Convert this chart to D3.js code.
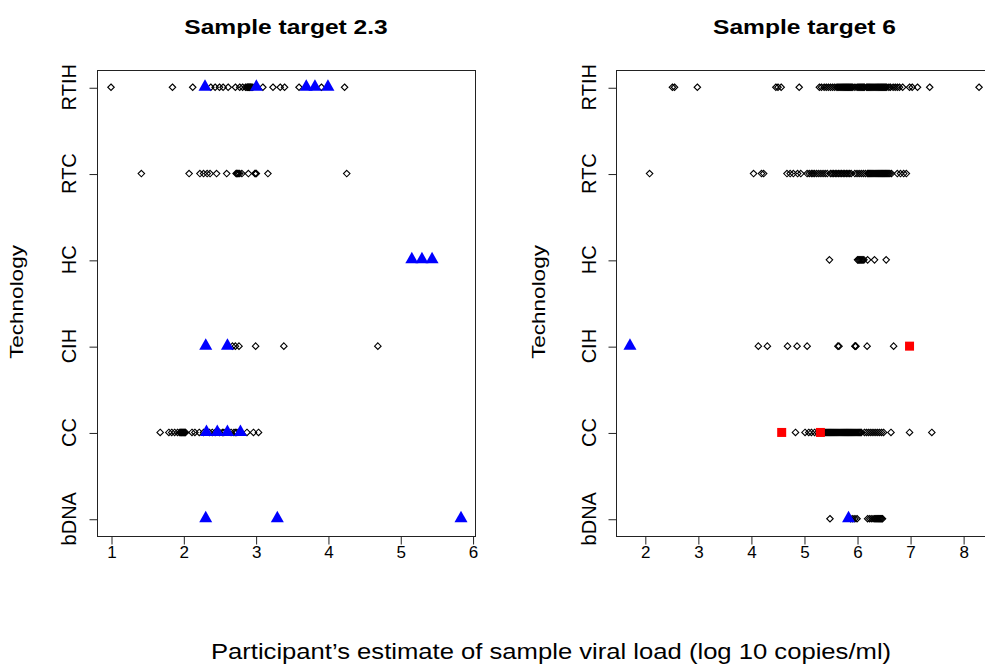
<!DOCTYPE html>
<html>
<head>
<meta charset="utf-8">
<script src="https://cdn.jsdelivr.net/npm/d3@7"></script>
<style>
  html, body { margin: 0; padding: 0; background: #fff; overflow: hidden; }
  svg { display: block; font-family: "Liberation Sans", Arial, Helvetica, sans-serif; }
</style>
</head>
<body>
<svg id="chart" width="985" height="664"></svg>
<script>
// Technologies, bottom to top on the y axis
const technologies = ["bDNA", "CC", "CIH", "HC", "RTC", "RTIH"];

// Panel 1: sample target 2.3 (log10 copies/ml)
const t23Ticks = [1, 2, 3, 4, 5, 6];
const t23Diamonds = {
  RTIH: [1.00, 1.85, 2.13, 2.38, 2.44, 2.50, 2.55, 2.62, 2.72, 2.78, 2.82, 2.86, 2.88, 2.89, 2.90, 2.91, 2.92, 2.93, 2.94, 2.96, 3.10, 3.24, 3.34, 3.40, 3.60, 3.91, 4.23],
  RTC: [1.42, 2.08, 2.23, 2.28, 2.33, 2.37, 2.46, 2.60, 2.73, 2.74, 2.75, 2.76, 2.78, 2.81, 2.90, 2.99, 3.00, 3.01, 3.17, 4.26],
  HC: [],
  CIH: [2.68, 2.72, 2.77, 3.00, 3.39, 4.69],
  CC: [1.68, 1.80, 1.84, 1.88, 1.92, 1.95, 1.96, 1.97, 1.98, 1.99, 2.00, 2.01, 2.02, 2.03, 2.12, 2.16, 2.22, 2.28, 2.36, 2.40, 2.44, 2.50, 2.54, 2.56, 2.66, 2.70, 2.72, 2.74, 2.88, 2.97, 3.04],
  bDNA: []
};
const t23Triangles = {
  RTIH: [2.30, 3.01, 3.70, 3.82, 4.00],
  RTC: [],
  HC: [5.16, 5.30, 5.44],
  CIH: [2.31, 2.61],
  CC: [2.32, 2.47, 2.61, 2.79],
  bDNA: [2.31, 3.30, 5.84]
};
const t23Squares = { RTIH: [], RTC: [], HC: [], CIH: [], CC: [], bDNA: [] };

// Panel 2: sample target 6 (log10 copies/ml)
const t6Ticks = [2, 3, 4, 5, 6, 7, 8];
const t6Diamonds = {
  RTIH: [2.52, 2.56, 2.99, 4.47, 4.51, 4.57, 4.91, 5.29, 5.33, 5.38, 5.42, 5.46, 5.50, 5.54, 5.58,
         5.62, 5.64, 5.66, 5.68, 5.70, 5.72, 5.74, 5.76, 5.78, 5.80, 5.82, 5.84, 5.86, 5.88, 5.90, 5.92,
         5.96, 6.00, 6.02, 6.04, 6.06, 6.08, 6.10, 6.12, 6.14,
         6.18, 6.20, 6.22, 6.24, 6.26, 6.28, 6.30, 6.32, 6.34, 6.36, 6.38, 6.40, 6.42, 6.44, 6.46, 6.48, 6.50, 6.52, 6.54, 6.56,
         6.60, 6.63, 6.68, 6.72, 6.76, 6.80, 6.86, 6.99, 7.04, 7.14, 7.37, 8.30],
  RTC: [2.09, 4.05, 4.20, 4.24, 4.68, 4.74, 4.80, 4.88, 4.94, 5.06, 5.10, 5.14, 5.17, 5.20, 5.24, 5.28, 5.32, 5.36, 5.40, 5.44,
        5.50, 5.53, 5.56, 5.59, 5.62, 5.65, 5.68, 5.71, 5.74, 5.77, 5.80, 5.83, 5.86, 5.89, 5.96, 6.00, 6.04, 6.08, 6.12, 6.16,
        6.20, 6.22, 6.24, 6.26, 6.28, 6.30, 6.32, 6.34, 6.36, 6.38, 6.40, 6.42, 6.44, 6.46, 6.48, 6.50, 6.52, 6.54, 6.56, 6.58,
        6.60, 6.62, 6.65, 6.76, 6.82, 6.88, 6.93],
  HC: [5.48, 6.01, 6.03, 6.05, 6.07, 6.09, 6.11, 6.13, 6.20, 6.33, 6.55],
  CIH: [4.14, 4.31, 4.69, 4.87, 5.06, 5.64, 5.66, 5.96, 5.97, 5.98, 6.19, 6.69],
  CC: [4.84, 5.02, 5.09, 5.14, 5.20, 5.26, 5.32,
       5.36, 5.38, 5.40, 5.42, 5.44, 5.46, 5.48, 5.50, 5.52, 5.54, 5.56, 5.58, 5.60, 5.62, 5.64, 5.66, 5.68, 5.70, 5.72,
       5.74, 5.76, 5.78, 5.80, 5.82, 5.84, 5.86, 5.88, 5.90, 5.92, 5.94, 5.96, 5.98, 6.00, 6.02, 6.04, 6.06, 6.08,
       6.14, 6.18, 6.22, 6.26, 6.30, 6.34, 6.38, 6.42, 6.46, 6.50, 6.64, 6.99, 7.41],
  bDNA: [5.49, 5.88, 5.92, 5.96, 6.00, 6.20, 6.24, 6.28, 6.32, 6.34, 6.36, 6.38, 6.40, 6.42, 6.44, 6.46, 6.48]
};
const t6Triangles = { RTIH: [], RTC: [], HC: [], CIH: [1.72], CC: [], bDNA: [5.84] };
const t6Squares = { RTIH: [], RTC: [], HC: [], CIH: [6.99], CC: [4.58, 5.31], bDNA: [] };

const panelTitles = ["Sample target 2.3", "Sample target 6"];
const yTitle = "Technology";
const xTitle = "Participant\u2019s estimate of sample viral load (log 10 copies/ml)";

const svg = d3.select("#chart");

// Flatten a {technology: values} table into point records
function points(table) {
  const out = [];
  technologies.forEach(t => table[t].forEach(v => out.push({ tech: t, v: v })));
  return out;
}

// Axis limits padded by 4% of the data range on each side
function paddedDomain(tables) {
  const all = [];
  tables.forEach(tb => technologies.forEach(t => all.push(...tb[t])));
  const [lo, hi] = d3.extent(all);
  const pad = (hi - lo) * 0.04;
  return [lo - pad, hi + pad];
}

const panels = [
  { title: panelTitles[0], ticks: t23Ticks, diamonds: t23Diamonds, triangles: t23Triangles, squares: t23Squares,
    box: { x0: 97, x1: 475 }, yLabelX: 18, tickLabelX: 76 },
  { title: panelTitles[1], ticks: t6Ticks, diamonds: t6Diamonds, triangles: t6Triangles, squares: t6Squares,
    box: { x0: 616, x1: 993 }, yLabelX: 540, tickLabelX: 596 }
];

const boxTop = 70, boxBottom = 536;
const tickLen = 8;

panels.forEach(p => {
  const x = d3.scaleLinear()
    .domain(paddedDomain([p.diamonds, p.triangles, p.squares]))
    .range([p.box.x0, p.box.x1]);
  const y = d3.scaleLinear()
    .domain([0.8, technologies.length + 0.2])
    .range([boxBottom, boxTop]);
  const yPos = t => y(technologies.indexOf(t) + 1);

  const g = svg.append("g");

  // Plot frame
  g.append("rect")
    .attr("x", p.box.x0 + 0.5).attr("y", boxTop + 0.5)
    .attr("width", p.box.x1 - p.box.x0).attr("height", boxBottom - boxTop)
    .attr("fill", "none").attr("stroke", "#222").attr("stroke-width", 1);

  // Bottom axis
  const xAxis = d3.axisBottom(x).tickValues(p.ticks).tickSize(tickLen).tickPadding(1).tickFormat(d3.format("d"));
  const xg = g.append("g").attr("transform", `translate(0.5,${boxBottom + 0.5})`).call(xAxis);
  xg.select(".domain")
    .attr("d", `M${x(p.ticks[0])},0H${x(p.ticks[p.ticks.length - 1])}`)
    .attr("stroke", "#222");
  xg.selectAll(".tick line").attr("stroke", "#222");
  xg.selectAll(".tick text")
    .attr("font-family", "Liberation Sans, Arial, sans-serif")
    .attr("font-size", 17).attr("fill", "#000");

  // Left axis: ticks, then rotated category labels
  const yAxis = d3.axisLeft(y).tickValues(d3.range(1, technologies.length + 1)).tickSize(tickLen).tickFormat("");
  const yg = g.append("g").attr("transform", `translate(${p.box.x0 + 0.5},0.5)`).call(yAxis);
  yg.select(".domain")
    .attr("d", `M0,${y(1)}V${y(technologies.length)}`)
    .attr("stroke", "#222");
  yg.selectAll(".tick line").attr("stroke", "#222");

  g.selectAll(".techlabel").data(technologies).join("text")
    .attr("class", "techlabel")
    .attr("transform", t => `translate(${p.tickLabelX},${yPos(t)}) rotate(-90)`)
    .attr("text-anchor", "middle")
    .attr("font-size", 20)
    .attr("fill", "#000")
    .text(t => t);

  // Axis title on the left
  g.append("text")
    .attr("transform", `translate(${p.yLabelX + 5},${(boxTop + boxBottom) / 2 - 1}) rotate(-90) scale(1.25,1)`)
    .attr("text-anchor", "middle")
    .attr("font-size", 18)
    .text(yTitle);

  // Panel title
  g.append("text")
    .attr("transform", `translate(${(p.box.x0 + p.box.x1) / 2},34) scale(1.17,1)`)
    .attr("text-anchor", "middle")
    .attr("font-size", 21).attr("font-weight", "bold")
    .text(p.title);

  const marks = g.append("g");

  // Open diamonds
  marks.selectAll(".dia").data(points(p.diamonds)).join("path")
    .attr("class", "dia")
    .attr("d", d3.symbol(d3.symbolDiamond2 || d3.symbolDiamond, 27)())
    .attr("transform", d => `translate(${x(d.v)},${yPos(d.tech)})`)
    .attr("fill", "none").attr("stroke", "#000").attr("stroke-width", 1.1);

  // Filled blue triangles
  const tri = d3.line()([[0, -7], [6.5, 4.5], [-6.5, 4.5]]) + "Z";
  marks.selectAll(".tri").data(points(p.triangles)).join("path")
    .attr("class", "tri")
    .attr("d", tri)
    .attr("transform", d => `translate(${x(d.v)},${yPos(d.tech) - 1})`)
    .attr("fill", "#0000ff");

  // Filled red squares
  marks.selectAll(".sq").data(points(p.squares)).join("rect")
    .attr("class", "sq")
    .attr("x", d => x(d.v) - 4.5).attr("y", d => yPos(d.tech) - 4.5)
    .attr("width", 9).attr("height", 9)
    .attr("fill", "#ff0000");
});

// Shared x-axis title
svg.append("text")
  .attr("transform", "translate(551,659) scale(1.165,1)")
  .attr("text-anchor", "middle")
  .attr("font-size", 22)
  .text(xTitle);
</script>
</body>
</html>
